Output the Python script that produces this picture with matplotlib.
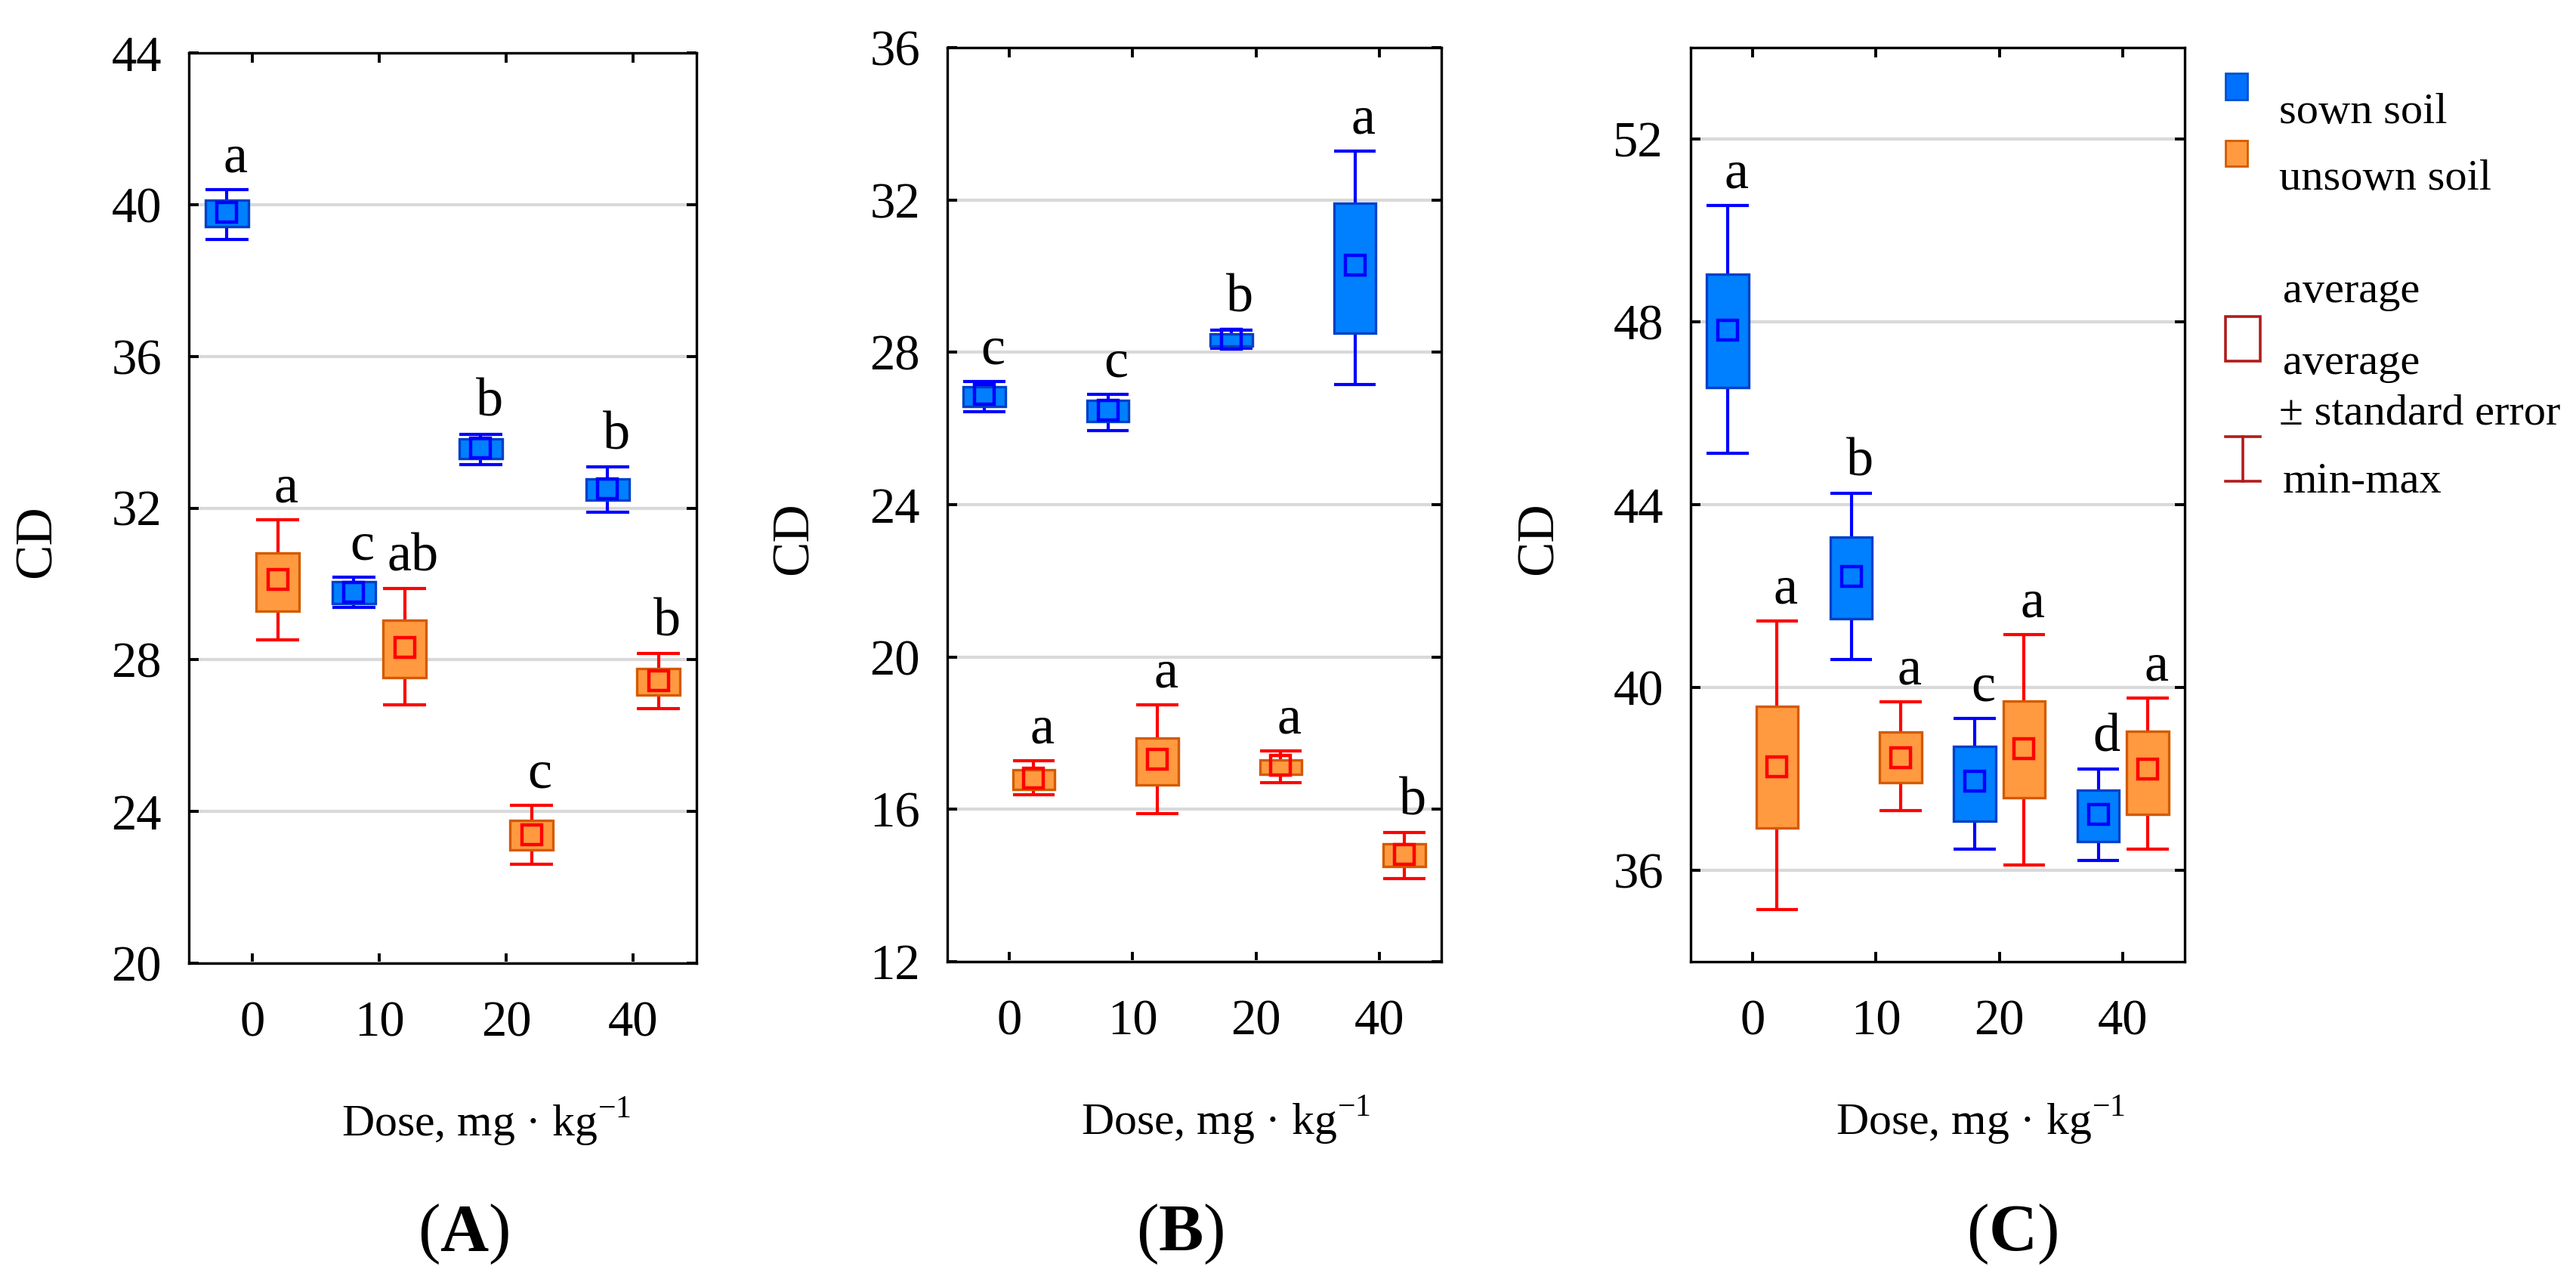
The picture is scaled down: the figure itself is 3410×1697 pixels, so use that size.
import numpy as np
import matplotlib.pyplot as plt
from matplotlib.patches import Rectangle

plt.rcParams['font.family'] = ['Liberation Serif', 'DejaVu Serif']
plt.rcParams['mathtext.fontset'] = 'custom'
plt.rcParams['mathtext.rm'] = 'Liberation Serif'
plt.rcParams['mathtext.bf'] = 'Liberation Serif:bold'

doses = ['0', '10', '20', '40']

# --- panel A ---
A_sown_mean = [39.80, 29.77, 33.58, 32.51]
A_sown_lo = [39.41, 29.49, 33.30, 32.20]
A_sown_hi = [40.12, 30.05, 33.82, 32.77]
A_sown_min = [39.08, 29.38, 33.15, 31.90]
A_sown_max = [40.40, 30.18, 33.95, 33.09]
A_sown_let = ['a', 'c', 'b', 'b']

A_unsown_mean = [30.11, 28.32, 23.39, 27.44]
A_unsown_lo = [29.29, 27.53, 22.98, 27.07]
A_unsown_hi = [30.82, 29.04, 23.77, 27.76]
A_unsown_min = [28.52, 26.81, 22.61, 26.71]
A_unsown_max = [31.69, 29.88, 24.16, 28.17]
A_unsown_let = ['a', 'ab', 'c', 'b']

# --- panel B ---
B_sown_mean = [26.90, 26.47, 28.34, 30.29]
B_sown_lo = [26.58, 26.19, 28.16, 28.51]
B_sown_hi = [27.09, 26.73, 28.49, 31.92]
B_sown_min = [26.43, 25.95, 28.10, 27.15]
B_sown_max = [27.24, 26.90, 28.59, 33.29]
B_sown_let = ['c', 'c', 'b', 'a']

B_unsown_mean = [16.81, 17.32, 17.15, 14.81]
B_unsown_lo = [16.53, 16.64, 16.91, 14.49]
B_unsown_hi = [17.04, 17.88, 17.30, 15.09]
B_unsown_min = [16.38, 15.88, 16.70, 14.19]
B_unsown_max = [17.28, 18.74, 17.54, 15.39]
B_unsown_let = ['a', 'a', 'a', 'b']

# --- panel C ---
C_sown_mean = [47.82, 42.43, 37.95, 37.23]
C_sown_lo = [46.57, 41.50, 37.07, 36.63]
C_sown_hi = [49.04, 43.29, 38.71, 37.75]
C_sown_min = [45.12, 40.61, 36.46, 36.21]
C_sown_max = [50.55, 44.25, 39.32, 38.21]
C_sown_let = ['a', 'b', 'c', 'd']

C_unsown_mean = [38.27, 38.46, 38.66, 38.21]
C_unsown_lo = [36.93, 37.91, 37.59, 37.23]
C_unsown_hi = [39.59, 39.02, 39.70, 39.04]
C_unsown_min = [35.14, 37.30, 36.12, 36.46]
C_unsown_max = [41.45, 39.68, 41.16, 39.77]
C_unsown_let = ['a', 'a', 'a', 'a']

SOWN = dict(fill='#0080ff', edge='#0040c8', line='#0000ff')
UNSOWN = dict(fill='#ff9a40', edge='#d45a00', line='#ff0000')

W, H = 3410, 1697
DPI = 200
FS = 24


def draw_group(ax, xs, mean, lo, hi, mn, mx, letters, st):
    w = 0.34
    xs = np.asarray(xs, dtype=float)
    lo, hi, mn, mx = map(np.asarray, (lo, hi, mn, mx))
    ax.vlines(xs, mn, mx, color=st['line'], lw=1.5, zorder=2)
    ax.hlines(mn, xs - w / 2, xs + w / 2, color=st['line'], lw=1.5, zorder=2)
    ax.hlines(mx, xs - w / 2, xs + w / 2, color=st['line'], lw=1.5, zorder=2)
    ax.bar(xs, hi - lo, bottom=lo, width=w, color=st['fill'],
           edgecolor=st['edge'], lw=1.2, zorder=3)
    ax.plot(xs, mean, ls='none', marker='s', ms=9.5, mfc='none',
            mec=st['line'], mew=1.6, zorder=4)
    for x, top, t in zip(xs, mx, letters):
        ax.annotate(t, (x, top), xytext=(4, 8.5), textcoords='offset points',
                    ha='center', va='baseline', fontsize=26)


def setup(ax, ylim, yticks, xlab_x, ylab_x):
    ax.set_xlim(-0.5, 3.5)
    ax.set_ylim(*ylim)
    ax.set_yticks(yticks)
    ax.set_xticks(range(len(doses)))
    ax.set_xticklabels(doses)
    ax.yaxis.grid(True, color='#d9d9d9', lw=1.5, zorder=0)
    ax.set_axisbelow(True)
    ax.tick_params(direction='in', length=4.8, width=1.4, labelsize=FS,
                   top=True, right=True)
    ax.tick_params(axis='y', pad=13)
    ax.tick_params(axis='x', pad=18)
    for s in ax.spines.values():
        s.set_linewidth(1.2)
    ax.set_ylabel('CD', fontsize=25)
    ax.yaxis.set_label_coords(ylab_x, 0.463)
    ax.set_xlabel('Dose, mg · kg$^{-1}$', fontsize=21.5)
    ax.xaxis.set_label_coords(xlab_x, -0.145)


fig = plt.figure(figsize=(W / DPI, H / DPI), dpi=DPI)

x = np.arange(len(doses))
off = 0.2

axA = fig.add_axes([250 / W, 1 - 1275 / H, 672 / W, 1205 / H])
setup(axA, (20, 44), np.arange(20, 45, 4), 0.586, -0.251)
draw_group(axA, x - off, A_sown_mean, A_sown_lo, A_sown_hi, A_sown_min, A_sown_max, A_sown_let, SOWN)
draw_group(axA, x + off, A_unsown_mean, A_unsown_lo, A_unsown_hi, A_unsown_min, A_unsown_max, A_unsown_let, UNSOWN)

axB = fig.add_axes([1254 / W, 1 - 1273 / H, 654 / W, 1210 / H])
setup(axB, (12, 36), np.arange(12, 37, 4), 0.563, -0.261)
draw_group(axB, x - off, B_sown_mean, B_sown_lo, B_sown_hi, B_sown_min, B_sown_max, B_sown_let, SOWN)
draw_group(axB, x + off, B_unsown_mean, B_unsown_lo, B_unsown_hi, B_unsown_min, B_unsown_max, B_unsown_let, UNSOWN)

axC = fig.add_axes([2238 / W, 1 - 1273 / H, 654 / W, 1210 / H])
setup(axC, (34, 54), np.arange(36, 53, 4), 0.586, -0.257)
draw_group(axC, x - off, C_sown_mean, C_sown_lo, C_sown_hi, C_sown_min, C_sown_max, C_sown_let, SOWN)
draw_group(axC, x + off, C_unsown_mean, C_unsown_lo, C_unsown_hi, C_unsown_min, C_unsown_max, C_unsown_let, UNSOWN)

# panel labels
for px, lab in [(614, 'A'), (1562, 'B'), (2664, 'C')]:
    fig.text(px / W, 1 - 1634 / H, '($\\mathbf{%s}$)' % lab, ha='center',
             va='center', fontsize=32)

# legend drawn in pixel space on an overlay axes
lax = fig.add_axes([0, 0, 1, 1])
lax.set_xlim(0, W)
lax.set_ylim(H, 0)
lax.axis('off')
lax.add_patch(Rectangle((2946, 97), 29, 35, facecolor='#0070ff', edgecolor='#0050d0', lw=1))
lax.add_patch(Rectangle((2946, 186), 29, 34, facecolor='#ff9a40', edgecolor='#d45a00', lw=1))
lax.add_patch(Rectangle((2946, 419), 46, 59, facecolor='none', edgecolor='#b01c1c', lw=1.3))
lax.plot([2969, 2969], [578, 637], color='#b01c1c', lw=1.3)
lax.plot([2946, 2992], [578, 578], color='#b01c1c', lw=1.3)
lax.plot([2946, 2992], [637, 637], color='#b01c1c', lw=1.3)
legend_txt = [(3017, 163, 'sown soil'), (3017, 251, 'unsown soil'),
              (3022, 400, 'average'), (3022, 495, 'average'),
              (3017, 561, '± standard error'), (3022, 651, 'min-max')]
for tx, ty, t in legend_txt:
    lax.text(tx, ty, t, ha='left', va='baseline', fontsize=21)

fig.savefig('out.png', dpi=DPI)
